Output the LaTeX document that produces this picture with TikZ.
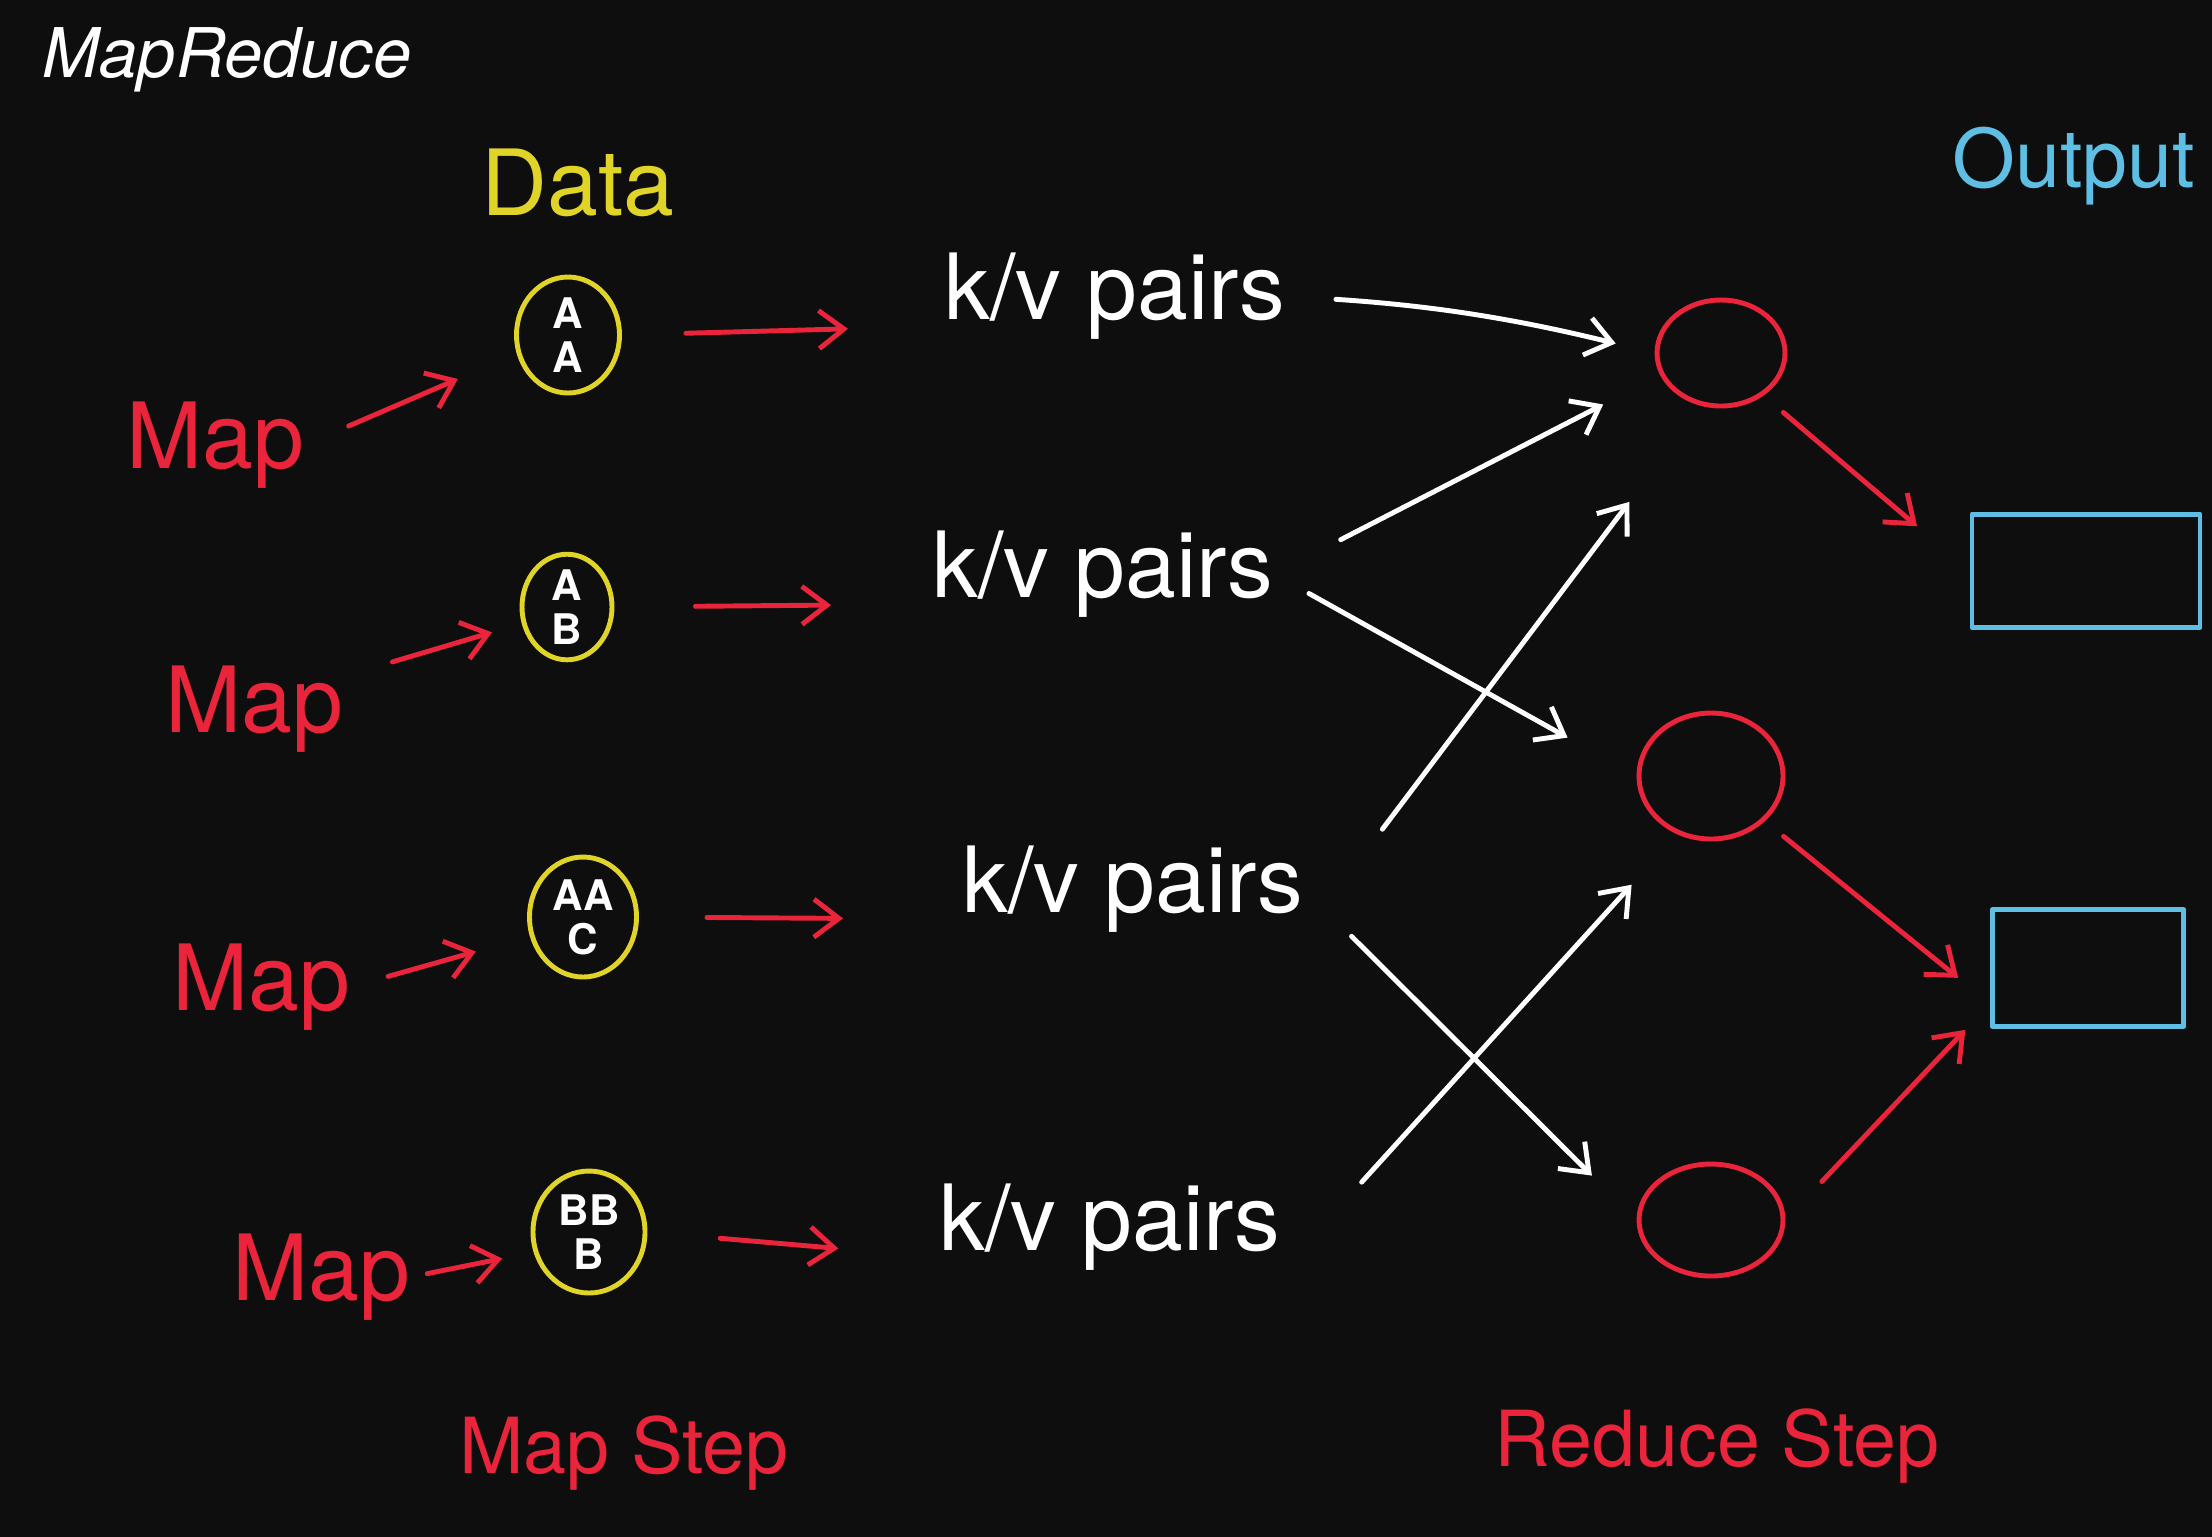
\documentclass[tikz,border=0pt]{standalone}
\usepackage{fontspec}
\setmainfont{TeX Gyre Heros}
\usepackage{xcolor}
\usepackage{tikz}
\usetikzlibrary{arrows.meta}
\usetikzlibrary{shapes.geometric}
\definecolor{bg}{RGB}{14,14,14}
\definecolor{mred}{RGB}{234,36,58}
\definecolor{myellow}{RGB}{225,212,40}
\definecolor{mcyan}{RGB}{95,190,228}
\tikzset{
    hand/.style = {inner sep=0pt, font=\fontsize{26}{30}\selectfont},
    title_label/.style = {inner sep=0pt, text=white, font=\itshape\fontsize{19.5}{23}\selectfont},
    map_label/.style = {hand, text=mred},
    kv_label/.style = {hand, text=white},
    step_label/.style = {inner sep=0pt, text=mred, font=\fontsize{22}{26}\selectfont},
    data_node/.style = {ellipse, draw=myellow, line width=1.4pt, inner sep=0pt, text=white, align=center, font=\bfseries\fontsize{12}{12.5}\selectfont},
    reduce_node/.style = {ellipse, draw=mred, line width=1.4pt, inner sep=0pt},
    out_node/.style = {rectangle, draw=mcyan, line width=1.4pt, inner sep=0pt},
    red_arrow/.style = {->, draw=mred, line width=1.4pt},
    white_arrow/.style = {->, draw=white, line width=1.4pt}
}

\begin{document}
\begin{tikzpicture}
    [>={Straight Barb[length=2.5mm, width=3.8mm]},
    x=0.1mm, y=-0.1mm, line cap=round, line join=round]

    \useasboundingbox (0,0) rectangle (2212,1536);
    \fill[bg] (-10,-10) rectangle (2222,1546);

    \node [title_label, anchor=base west] (title) at (42,77) {MapReduce};
    \node [hand, text=myellow] (data) at (578,183) {Data};
    \node [hand, text=mcyan, font=\fontsize{23}{27}\selectfont] (output) at (2074,166) {Output};

    % map labels
    \node [map_label] (map1) at (215,445) {Map};
    \node [map_label] (map2) at (254,709) {Map};
    \node [map_label] (map3) at (261,987) {Map};
    \node [map_label] (map4) at (321,1277) {Map};

    % data
    \node [data_node, minimum width=10.3mm, minimum height=11.6mm] (data1) at (568,335) {A\\A};
    \node [data_node, minimum width=9mm, minimum height=10mm] (data2) at (567,607) {A\\B};
    \node [data_node, minimum width=10.7mm, minimum height=12mm] (data3) at (583,917) {AA\\C};
    \node [data_node, minimum width=11.2mm, minimum height=12.2mm] (data4) at (589,1232) {BB\\B};

    % key/value pairs
    \node [kv_label] (kv1) at (1115,296) {k/v pairs};
    \node [kv_label] (kv2) at (1103,574) {k/v pairs};
    \node [kv_label] (kv3) at (1133,889) {k/v pairs};
    \node [kv_label] (kv4) at (1110,1227) {k/v pairs};

    % reducers
    \node [reduce_node, minimum width=12.8mm, minimum height=10.6mm] (red1) at (1721,353) {};
    \node [reduce_node, minimum width=14.4mm, minimum height=12.6mm] (red2) at (1711,776) {};
    \node [reduce_node, minimum width=14.4mm, minimum height=11.2mm] (red3) at (1711,1220) {};

    % outputs
    \node [out_node, minimum width=22.8mm, minimum height=11.3mm] (out1) at (2086,571) {};
    \node [out_node, minimum width=19.1mm, minimum height=11.7mm] (out2) at (2088,968) {};

    \node [step_label] (mapstep) at (624,1453) {Map Step};
    \node [step_label] (reducestep) at (1717,1446) {Reduce Step};

    % map -> data
    \draw [red_arrow, shorten <=4.8mm, shorten >=6.4mm] (map1.east) -- (data1.200);
    \draw [red_arrow, shorten <=5.1mm, shorten >=3.1mm] (map2.20) -- (data2.200);
    \draw [red_arrow, shorten <=3.9mm, shorten >=5.6mm] (map3.east) -- (data3.200);
    \draw [red_arrow, shorten <=1.7mm, shorten >=3.2mm] (map4.east) -- (data4.200);

    % data -> k/v
    \draw [red_arrow, shorten <=6.4mm, shorten >=9.6mm] (data1.east) -- (kv1.190);
    \draw [red_arrow, shorten <=8.1mm, shorten >=10.1mm] (data2.east) -- (kv2.190);
    \draw [red_arrow, shorten <=6.8mm, shorten >=11.9mm] (data3.east) -- (kv3.190);
    \draw [red_arrow, shorten <=7.3mm, shorten >=10.1mm] (data4.east) -- (kv4.190);

    % k/v -> reduce
    \draw [white_arrow, shorten <=5mm, shorten >=4mm] (kv1.east) to[bend left=5] (red1.west);
    \draw [white_arrow, shorten <=7.5mm, shorten >=6.4mm] (kv2.east) -- (red1.200);
    \draw [white_arrow, shorten <=4mm, shorten >=7.9mm] (kv2.east) -- (red2.west);
    \draw [white_arrow, shorten <=13mm, shorten >=12mm] (kv3.south east) -- (red1.250);
    \draw [white_arrow, shorten <=6.7mm, shorten >=6.3mm] (kv3.east) -- (red3.west);
    \draw [white_arrow, shorten <=12mm, shorten >=6.8mm] (kv4.south east) -- (red2.240);

    % reduce -> output
    \draw [red_arrow, shorten <=2.6mm, shorten >=6.9mm] (red1.-45) -- (out1.west);
    \draw [red_arrow, shorten <=2.4mm, shorten >=4.1mm] (red2.-40) -- (out2.-160);
    \draw [red_arrow, shorten <=5.3mm, shorten >=3.6mm] (red3.east) -- (out2.-160);
\end{tikzpicture}
\end{document}
